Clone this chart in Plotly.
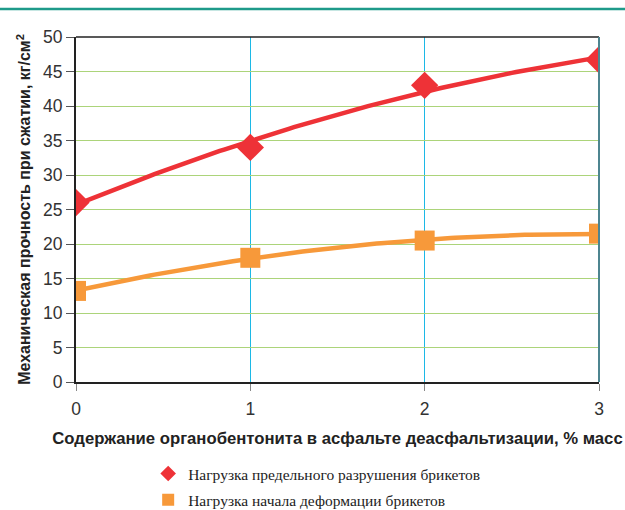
import numpy as np
import plotly.graph_objects as go

x_vals = [0, 1, 2, 3]
destruction = [26.0, 34.0, 43.0, 46.7]
deformation = [13.2, 18.0, 20.5, 21.5]
y_ticks = [0, 5, 10, 15, 20, 25, 30, 35, 40, 45, 50]
names = ["Нагрузка предельного разрушения брикетов", "Нагрузка начала деформации брикетов"]
x_title = "<b>Содержание органобентонита в асфальте деасфальтизации, % масс</b>"
y_title = "<b>Механическая прочность при сжатии, кг/см<sup>2</sup></b>"

RED = "#ee3237"
ORANGE = "#f7993a"

xs = np.linspace(0, 3, 121)
fig = go.Figure()
for ys, col in [(destruction, RED), (deformation, ORANGE)]:
    coef = np.polyfit(x_vals, ys, 2)
    fig.add_trace(go.Scatter(x=xs, y=np.polyval(coef, xs), mode="lines",
                             line=dict(color=col, width=4.5), showlegend=False, hoverinfo="skip"))
fig.add_trace(go.Scatter(x=x_vals, y=destruction, mode="markers", name=names[0], legendgroup="a",
                         marker=dict(symbol="diamond", size=21, color=RED)))
fig.add_trace(go.Scatter(x=x_vals, y=deformation, mode="markers", name=names[1], legendgroup="b",
                         marker=dict(symbol="square", size=20, color=ORANGE)))

fig.update_layout(
    width=625, height=510,
    margin=dict(l=76, r=26, t=37, b=128, autoexpand=False),
    paper_bgcolor="white", plot_bgcolor="white",
    font=dict(family="Liberation Sans, Arial", color="#333333"),
    showlegend=True,
    legend=dict(x=0.138, xref="paper", y=0.104, yref="container", yanchor="top", xanchor="left",
                font=dict(family="Liberation Serif, Times New Roman", size=15.5, color="#222222"),
                itemsizing="constant", tracegroupgap=3, itemwidth=30),
    xaxis=dict(range=[0, 3], tickvals=x_vals, ticks="outside", ticklen=7, tickcolor="#888888",
               showline=True, linecolor="#222222", linewidth=2,
               showgrid=True, gridcolor="#1cb8e6", gridwidth=1, zeroline=False,
               tickfont=dict(size=17.5, color="#333333"), ticklabelstandoff=3,
               title=dict(text=x_title, font=dict(size=16.7, color="#222222", family="Liberation Sans, Arial"), standoff=14)),
    yaxis=dict(range=[0, 50], tickvals=y_ticks, ticks="outside", ticklen=8, tickcolor="#555555",
               showline=True, linecolor="#222222", linewidth=2,
               showgrid=True, gridcolor="#acd47a", gridwidth=1, zeroline=False,
               tickfont=dict(size=17.5, color="#333333"),
               title=dict(text=y_title, font=dict(size=16, color="#222222", family="Liberation Sans, Arial"), standoff=8)),
    shapes=[
        dict(type="line", xref="paper", yref="paper", x0=0, x1=1, y0=1, y1=1,
             line=dict(color="#222222", width=1.5)),
        dict(type="line", xref="paper", yref="paper", x0=1, x1=1, y0=0, y1=1,
             line=dict(color="#4d8590", width=2)),
        dict(type="line", xref="paper", yref="paper", x0=-76/523, x1=549/523, y0=1 + 28/345, y1=1 + 28/345,
             line=dict(color="#1e9a8a", width=2.5)),
    ],
)
fig.write_html("out.html")
